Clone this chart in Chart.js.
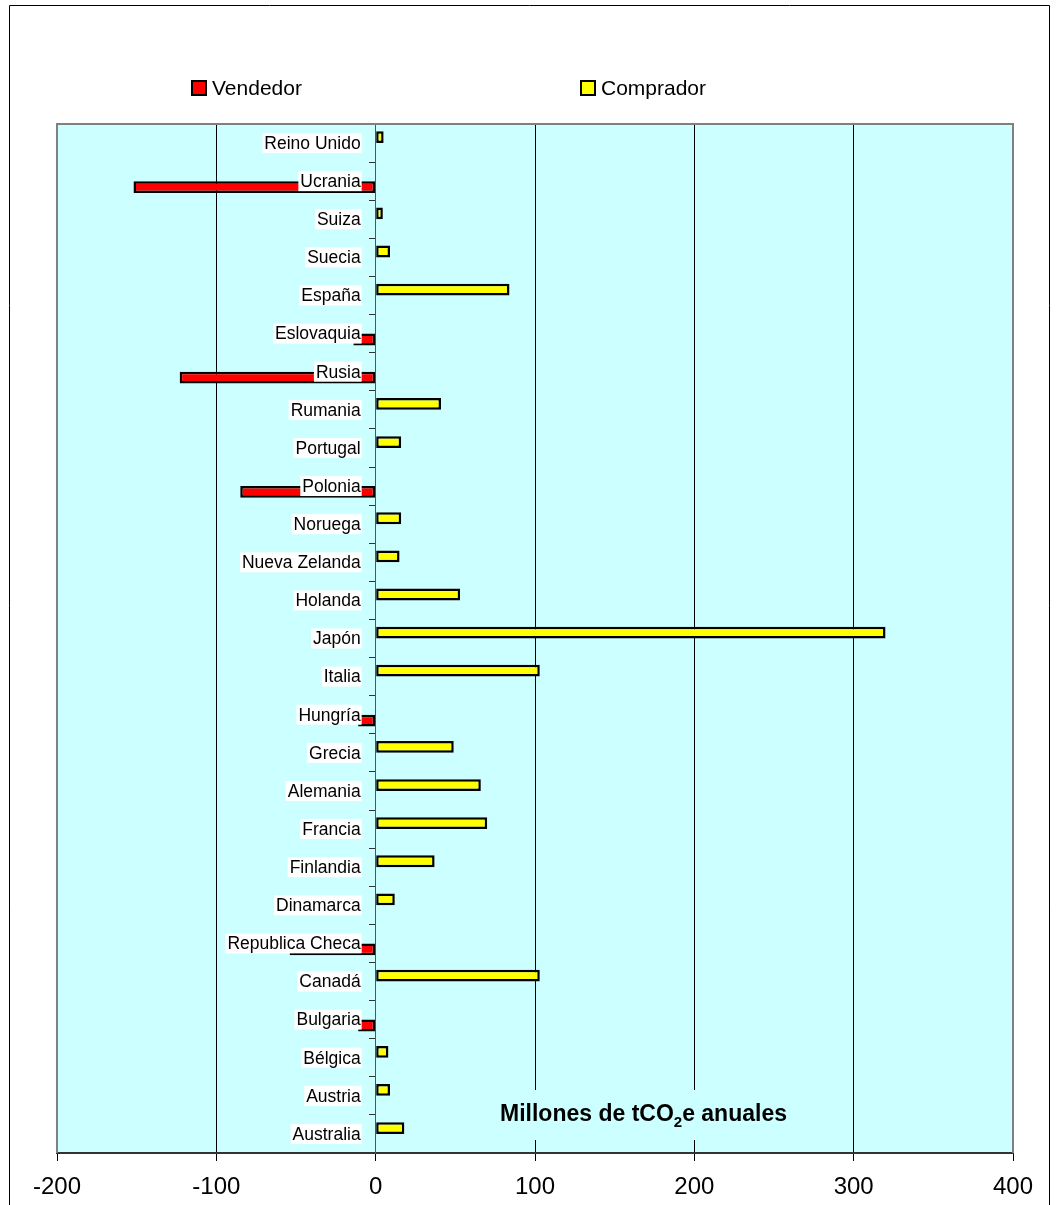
<!DOCTYPE html>
<html><head><meta charset="utf-8">
<script src="https://cdn.jsdelivr.net/npm/chart.js@4.4.1/dist/chart.umd.min.js"></script>
<style>html,body{margin:0;padding:0;background:#fff;} canvas{display:block;}</style>
</head><body>
<canvas id="c" width="1058" height="1205"></canvas>
<script>
const categories = ['Reino Unido','Ucrania','Suiza','Suecia','España','Eslovaquia','Rusia','Rumania','Portugal','Polonia','Noruega','Nueva Zelanda','Holanda','Japón','Italia','Hungría','Grecia','Alemania','Francia','Finlandia','Dinamarca','Republica Checa','Canadá','Bulgaria','Bélgica','Austria','Australia'];
const compradorValues = [5, null, 4.5, 9, 84, null, null, 41, 16, null, 16, 15, 53, 320, 103, null, 49, 66, 70, 37, 12, null, 103, null, 8, 9, 18];
const vendedorValues = [null, -152, null, null, null, -14, -123, null, null, -85, null, null, null, null, null, -11, null, null, null, null, null, -54, null, -11, null, null, null];
const xTicks = [-200, -100, 0, 100, 200, 300, 400];
const seriesNames = ['Vendedor', 'Comprador'];
const seriesColors = ['#FF0000', '#FFFF00'];
const axisTitleParts = ['Millones de tCO', '2', 'e anuales'];

const FONT = "'Liberation Sans', Arial, sans-serif";

const decor = {
  id: 'decor',
  beforeDraw(chart) {
    const {ctx, chartArea: a} = chart;
    ctx.save();
    ctx.fillStyle = '#fff';
    ctx.fillRect(0, 0, chart.width, chart.height);
    ctx.fillStyle = '#CCFFFF';
    ctx.fillRect(a.left, a.top, a.right - a.left, a.bottom - a.top);
    ctx.restore();
  },
  afterDatasetsDraw(chart) {
    const {ctx, chartArea: a, scales: {x, y}} = chart;
    const x0 = x.getPixelForValue(0);
    ctx.save();
    ctx.font = '17.5px ' + FONT;
    ctx.textAlign = 'right';
    ctx.textBaseline = 'middle';
    categories.forEach((c, i) => {
      const py = y.getPixelForValue(i);
      const tx = x0 - 15;
      const w = ctx.measureText(c).width;
      ctx.fillStyle = '#fff';
      ctx.fillRect(tx - w - 2, py - 10, w + 3, 20);
      ctx.fillStyle = '#000';
      ctx.fillText(c, tx, py + 1);
    });
    const bx = a.left + 433, by = a.bottom - 63;
    ctx.fillStyle = '#CCFFFF';
    ctx.fillRect(bx, by, 320, 50);
    ctx.fillStyle = '#000';
    ctx.textAlign = 'left';
    ctx.textBaseline = 'alphabetic';
    let tx = bx + 10;
    const base = by + 31;
    ctx.font = 'bold 23px ' + FONT;
    ctx.fillText(axisTitleParts[0], tx, base);
    tx += ctx.measureText(axisTitleParts[0]).width;
    ctx.font = 'bold 15px ' + FONT;
    ctx.fillText(axisTitleParts[1], tx, base + 6);
    tx += ctx.measureText(axisTitleParts[1]).width;
    ctx.font = 'bold 23px ' + FONT;
    ctx.fillText(axisTitleParts[2], tx, base);
    ctx.restore();
  },
  afterDraw(chart) {
    const {ctx, chartArea: a} = chart;
    ctx.save();
    ctx.strokeStyle = '#808080';
    ctx.lineWidth = 2;
    ctx.beginPath();
    ctx.moveTo(a.left, a.bottom);
    ctx.lineTo(a.left, a.top);
    ctx.lineTo(a.right, a.top);
    ctx.lineTo(a.right, a.bottom);
    ctx.stroke();
    ctx.strokeStyle = '#000';
    ctx.lineWidth = 1;
    ctx.beginPath();
    ctx.moveTo(9.5, chart.height + 2);
    ctx.lineTo(9.5, 5.5);
    ctx.lineTo(1049.5, 5.5);
    ctx.lineTo(1049.5, chart.height + 2);
    ctx.stroke();
    const items = [{x: 192}, {x: 581}];
    ctx.font = '21px ' + FONT;
    ctx.textBaseline = 'middle';
    ctx.textAlign = 'left';
    items.forEach((it, i) => {
      ctx.fillStyle = seriesColors[i];
      ctx.fillRect(it.x, 81, 14, 14);
      ctx.strokeStyle = '#000';
      ctx.lineWidth = 2;
      ctx.strokeRect(it.x, 81, 14, 14);
      ctx.fillStyle = '#000';
      ctx.fillText(seriesNames[i], it.x + 20, 89);
    });
    ctx.restore();
  }
};

new Chart(document.getElementById('c'), {
  type: 'bar',
  data: {
    labels: categories,
    datasets: [
      {label: seriesNames[1], data: compradorValues, backgroundColor: seriesColors[1], borderColor: '#000', borderWidth: 2.5, borderSkipped: false},
      {label: seriesNames[0], data: vendedorValues, backgroundColor: seriesColors[0], borderColor: '#000', borderWidth: 2.5, borderSkipped: false}
    ]
  },
  options: {
    responsive: false,
    animation: false,
    devicePixelRatio: 1,
    indexAxis: 'y',
    categoryPercentage: 0.62,
    barPercentage: 1.0,
    layout: {padding: {top: 124, left: 57, right: 45, bottom: 0}},
    plugins: {legend: {display: false}, tooltip: {enabled: false}},
    scales: {
      x: {
        type: 'linear', min: -200, max: 400, position: 'bottom',
        afterBuildTicks: s => { s.ticks = xTicks.map(v => ({value: v})); },
        afterFit: s => { s.height = 52; },
        ticks: {font: {family: FONT, size: 24}, color: '#000', padding: 12, maxRotation: 0, autoSkip: false},
        grid: {
          color: c => (c.tick && (c.tick.value === -200 || c.tick.value === 400)) ? 'rgba(0,0,0,0)' : (c.tick && c.tick.value === 0 ? '#555' : '#000'),
          lineWidth: 1, tickLength: 8, tickColor: '#000', tickWidth: 1
        },
        border: {display: true, color: '#333', width: 2}
      },
      y: {
        type: 'category', position: {x: 0}, offset: true,
        ticks: {display: false},
        grid: {drawOnChartArea: false, offset: true, tickLength: 6, tickColor: '#333', drawTicks: true},
        border: {display: true, color: '#555', width: 1}
      }
    }
  },
  plugins: [decor]
});
</script>
</body></html>
